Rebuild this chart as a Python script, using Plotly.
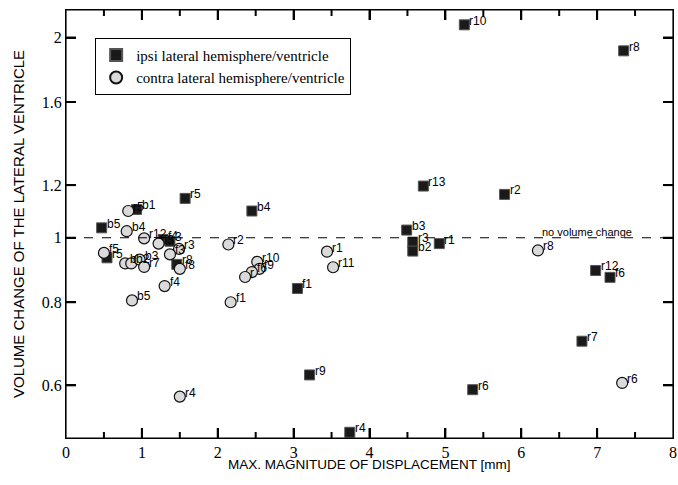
import math
import plotly.graph_objects as go

# ipsi lateral (black squares)
ipsi_x = [5.25, 7.35, 1.57, 0.93, 2.45, 0.47, 4.71, 5.78, 4.49, 4.57, 4.57, 4.92,
          6.98, 7.17, 3.05, 6.80, 3.21, 5.36, 3.74, 0.54, 1.28, 1.37, 1.46]
ipsi_y = [2.09, 1.91, 1.146, 1.103, 1.097, 1.035, 1.196, 1.162, 1.027, 0.985, 0.955, 0.980,
          0.893, 0.872, 0.839, 0.699, 0.622, 0.591, 0.510, 0.933, 0.994, 0.988, 0.912]
ipsi_lbl = ["r10", "r8", "r5", "b1", "b4", "b5", "r13", "r2", "b3", "r3", "b2", "r1",
            "r12", "f6", "f1", "r7", "r9", "r6", "r4", "r5", "f4", "3", "r8"]

# contra lateral (light circles)
contra_x = [0.82, 0.80, 1.03, 1.22, 1.49, 2.14, 0.50, 0.78, 0.86, 0.97, 1.03, 1.37,
            1.50, 1.30, 0.87, 2.17, 2.52, 2.55, 2.45, 2.36, 3.44, 3.52, 6.22, 7.33, 1.50]
contra_y = [1.097, 1.023, 0.998, 0.980, 0.962, 0.977, 0.949, 0.915, 0.915, 0.927, 0.904, 0.944,
            0.898, 0.846, 0.805, 0.800, 0.920, 0.898, 0.888, 0.873, 0.953, 0.903, 0.957, 0.605, 0.577]
contra_lbl = ["r5", "b4", "r12", "f3", "r3", "r2", "f5", "b", "b2", "b3", "r7", "f3",
              "f8", "f4", "b5", "f1", "r10", "f9", "f6", "r", "r1", "r11", "r8", "r6", "r4"]

x_major = [1, 2, 3, 4, 5, 6, 7]
x_minor = [0.5, 1.5, 2.5, 3.5, 4.5, 5.5, 6.5, 7.5]
y_ticks = [0.6, 0.8, 1, 1.2, 1.6, 2]
y_ticktext = ["0.6", "0.8", "1", "1.2", "1.6", "2"]

SANS = "Liberation Sans, Arial, sans-serif"
SERIF = "Liberation Serif, Times New Roman, serif"
X_RANGE = [0, 8]
Y_RANGE = [math.log10(0.5), math.log10(2.2)]

fig = go.Figure()
fig.add_trace(go.Scatter(
    x=ipsi_x, y=ipsi_y, mode="markers",
    marker=dict(symbol="square", size=10, color="#1a1a1a",
                line=dict(color="#555", width=1)),
    name="ipsi lateral hemisphere/ventricle",
))
fig.add_trace(go.Scatter(
    x=contra_x, y=contra_y, mode="markers",
    marker=dict(symbol="circle", size=11, color="#dadada",
                line=dict(color="#111", width=1.2)),
    name="contra lateral hemisphere/ventricle",
))

# point labels, tucked to the upper right of each marker
for xs, ys, lbls in [(ipsi_x, ipsi_y, ipsi_lbl), (contra_x, contra_y, contra_lbl)]:
    for x, y, t in zip(xs, ys, lbls):
        fig.add_annotation(x=x, y=math.log10(y), text=t, showarrow=False,
                           xanchor="left", yanchor="bottom", xshift=3, yshift=-5,
                           font=dict(family=SANS, size=12, color="black"))

# inward ticks on all four sides (pixel-sized shapes; shape y uses data values on log axes)
TICK = dict(color="black", width=2)
for xv, ln in [(v, 10) for v in x_major] + [(v, 6) for v in x_minor]:
    for anchor, sign in [(0, 1), (1, -1)]:
        fig.add_shape(type="line", xref="x", yref="paper", ysizemode="pixel",
                      yanchor=anchor, x0=xv, x1=xv, y0=0, y1=sign * ln, line=TICK)
for yv in y_ticks:
    for anchor, sign in [(0, 1), (1, -1)]:
        fig.add_shape(type="line", xref="paper", yref="y", xsizemode="pixel",
                      xanchor=anchor, x0=0, x1=sign * 10, y0=yv, y1=yv, line=TICK)

# dashed reference line at 1 + frame
fig.add_shape(type="line", xref="paper", x0=0, x1=1, y0=1, y1=1,
              line=dict(color="black", width=1.2, dash="dash"))
fig.add_shape(type="rect", xref="paper", yref="paper", x0=0, x1=1, y0=0, y1=1,
              line=dict(color="black", width=1.2))
fig.add_annotation(x=6.87, y=0, text="no volume change", showarrow=False,
                   yanchor="bottom", yshift=-2, font=dict(family=SANS, size=11, color="black"))

# axis titles as annotations to place them like the original
fig.add_annotation(xref="paper", yref="paper", x=0.5, y=-0.063, yanchor="middle",
                   text="MAX. MAGNITUDE OF DISPLACEMENT [mm]", showarrow=False,
                   font=dict(family=SANS, size=13.5, color="black"))
fig.add_annotation(xref="paper", yref="paper", x=-0.079, y=0.5, xanchor="center",
                   textangle=-90, text="VOLUME CHANGE OF THE LATERAL VENTRICLE",
                   showarrow=False, font=dict(family=SANS, size=15, color="black"))

axis_common = dict(showline=True, linecolor="black", linewidth=1.2, mirror="ticks",
                   ticks="inside", ticklen=10, tickcolor="black", tickwidth=2,
                   showgrid=False, zeroline=False, automargin=False, fixedrange=True,
                   tickfont=dict(family=SERIF, size=16, color="black"))
fig.update_layout(
    width=678, height=485,
    margin=dict(l=66, r=5, t=10, b=47),
    paper_bgcolor="white", plot_bgcolor="white",
    xaxis=dict(range=X_RANGE, dtick=1, **axis_common),
    yaxis=dict(type="log", range=Y_RANGE, tickvals=y_ticks, ticktext=y_ticktext,
               **axis_common),
    legend=dict(x=0.048, y=0.935, xanchor="left", yanchor="top",
                bordercolor="black", borderwidth=1, bgcolor="white",
                font=dict(family=SERIF, size=15, color="black"),
                tracegroupgap=0, itemsizing="constant"),
    showlegend=True,
)

# drop the page's default 8px body margin so the figure fills the window
fig.write_html("out.html", config={"displayModeBar": False},
               post_script="document.body.style.margin='0';document.body.style.overflow='hidden';")
